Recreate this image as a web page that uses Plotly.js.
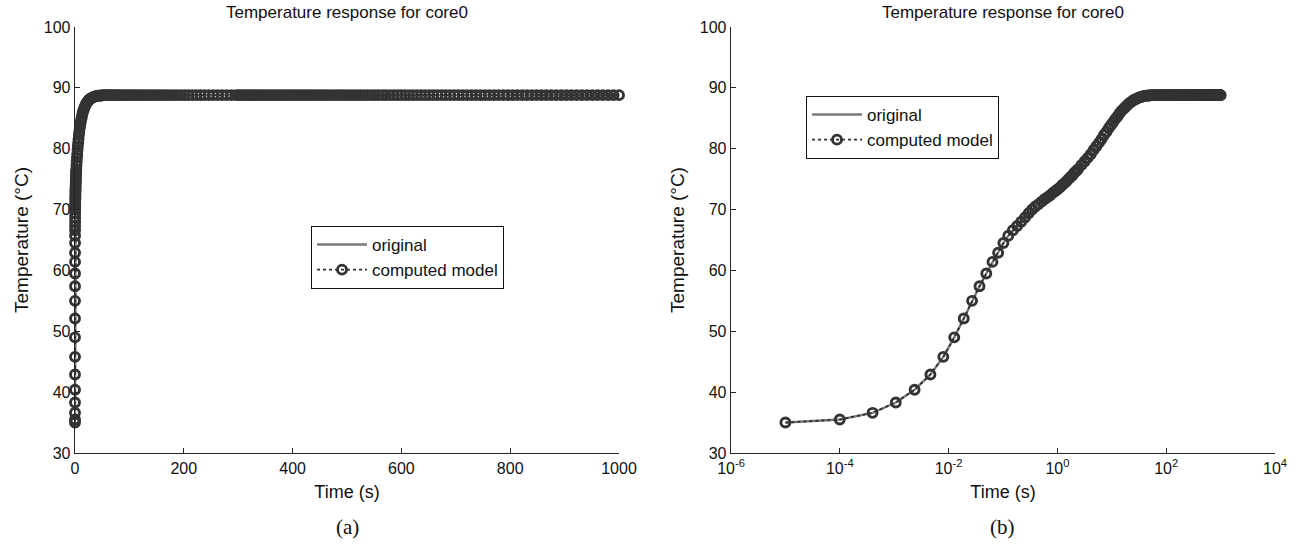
<!DOCTYPE html>
<html>
<head>
<meta charset="utf-8">
<script src="https://cdn.plot.ly/plotly-3.0.1.min.js"></script>
<style>html,body{margin:0;padding:0;background:#fff;}#chart{width:1301px;height:553px;}</style>
</head>
<body>
<div id="chart"></div>
<script>
// Sample times (s)
const timeS = [
0.00001,0.0001,0.0004,0.00107,0.00237,0.00463,0.008,0.0127,0.019,0.027,
0.037,0.0493,0.064,0.0814,0.1016,0.125,0.1517,0.182,
0.216,0.254,0.296,0.343,0.394,0.451,0.512,0.579,0.651,0.729,0.813,0.903,1.0,1.103,1.214,1.331,1.456,1.588,1.728,1.876,2.032,2.197,2.37,
2.744,3.155,3.605,4.096,4.63,5.208,5.832,6.504,7.226,8.0,8.827,9.709,10.648,11.646,12.704,13.824,15.008,16.258,17.576,18.963,20.421,21.952,23.558,25.24,27.0,28.84,30.762,32.768,34.859,
37.0,39.3,41.7,44.1,46.7,49.3,52.0,54.9,57.8,60.9,64.0,67.3,70.6,74.1,77.7,81.4,85.2,89.1,93.2,97.3,
101.6,106.0,110.6,115.3,120.1,125.0,130.1,135.3,140.6,146.1,151.7,157.5,163.4,169.4,175.6,182.0,188.5,195.1,201.9,208.9,
216.0,223.3,230.7,238.3,246.1,254.0,262.1,270.4,278.9,287.5,
296.3,300.8,305.3,309.8,314.4,319.1,323.8,328.5,333.3,338.1,343.0,347.9,352.9,357.9,363.0,368.1,373.2,378.5,383.7,389.0,
394.4,399.8,405.2,410.7,416.3,421.9,427.5,433.2,439.0,444.8,450.6,456.5,462.5,468.5,474.6,480.7,486.8,493.0,499.3,505.6,
512.0,518.4,524.9,531.4,538.0,544.7,551.4,558.1,564.9,571.8,578.7,585.7,592.7,599.8,606.9,614.1,621.4,628.7,636.1,643.5,
651.0,658.5,666.1,673.8,681.5,689.2,697.1,705.0,712.9,720.9,729.0,737.1,745.3,753.6,761.9,770.3,778.7,787.2,795.7,804.4,
813.0,821.8,830.6,839.5,848.4,857.4,866.4,875.6,884.7,894.0,903.3,912.7,922.1,931.6,941.2,950.8,960.5,970.3,980.1,990.0,
1000.0
];
// Core0 temperature (°C) at each sample time
const tempC = [
35.0,35.5,36.6,38.3,40.4,42.9,45.8,49.0,52.1,55.0,
57.4,59.5,61.4,62.9,64.5,65.7,66.6,67.3,
68.0,68.7,69.4,70.0,70.5,70.9,71.3,71.7,72.0,72.3,72.7,73.0,73.3,73.6,74.0,74.3,74.6,75.0,75.3,75.6,76.0,76.3,76.6,
77.3,77.9,78.5,79.1,79.8,80.4,81.0,81.6,82.3,82.8,83.4,83.9,84.4,84.9,85.3,85.8,86.2,86.5,86.8,87.1,87.4,87.6,87.8,88.0,88.1,88.25,88.35,88.45,88.5,
88.6,88.65,88.7,88.7,88.75,88.75,88.8,88.8,88.8,88.8,88.8,88.8,88.8,88.8,88.8,88.8,88.8,88.8,88.8,88.8,
88.8,88.8,88.8,88.8,88.8,88.8,88.8,88.8,88.8,88.8,88.8,88.8,88.8,88.8,88.8,88.8,88.8,88.8,88.8,88.8,
88.8,88.8,88.8,88.8,88.8,88.8,88.8,88.8,88.8,88.8,
88.8,88.8,88.8,88.8,88.8,88.8,88.8,88.8,88.8,88.8,88.8,88.8,88.8,88.8,88.8,88.8,88.8,88.8,88.8,88.8,
88.8,88.8,88.8,88.8,88.8,88.8,88.8,88.8,88.8,88.8,88.8,88.8,88.8,88.8,88.8,88.8,88.8,88.8,88.8,88.8,
88.8,88.8,88.8,88.8,88.8,88.8,88.8,88.8,88.8,88.8,88.8,88.8,88.8,88.8,88.8,88.8,88.8,88.8,88.8,88.8,
88.8,88.8,88.8,88.8,88.8,88.8,88.8,88.8,88.8,88.8,88.8,88.8,88.8,88.8,88.8,88.8,88.8,88.8,88.8,88.8,
88.8,88.8,88.8,88.8,88.8,88.8,88.8,88.8,88.8,88.8,88.8,88.8,88.8,88.8,88.8,88.8,88.8,88.8,88.8,88.8,
88.8
];
const seriesNames = ['original', 'computed model'];
const chartTitle = 'Temperature response for core0';
const xTitle = 'Time (s)';
const yTitle = 'Temperature (°C)';
const linTicks = [0, 200, 400, 600, 800, 1000];
const logTicks = [1e-6, 1e-4, 1e-2, 1, 1e2, 1e4];
const logTickText = ['10<sup>-6</sup>', '10<sup>-4</sup>', '10<sup>-2</sup>', '10<sup>0</sup>', '10<sup>2</sup>', '10<sup>4</sup>'];
const captions = ['(a)', '(b)'];

const FONT = 'Liberation Sans, Arial, Helvetica, sans-serif';
const AX = '#262626';

function origTrace(xa, ya, lg) {
  return {x: timeS, y: tempC, xaxis: xa, yaxis: ya, legend: lg, name: seriesNames[0],
    type: 'scatter', mode: 'lines', line: {color: '#7a7a7a', width: 2.4}, cliponaxis: false};
}
function modelTrace(xa, ya, lg) {
  return {x: timeS, y: tempC, xaxis: xa, yaxis: ya, legend: lg, name: seriesNames[1],
    type: 'scatter', mode: 'lines+markers', cliponaxis: false,
    line: {color: '#2e2e2e', width: 1.8, dash: 'dot'},
    marker: {symbol: 'circle-open', size: 9, color: '#333333', line: {width: 2.9, color: '#333333'}}};
}

const data = [
  origTrace('x', 'y', 'legend'), modelTrace('x', 'y', 'legend'),
  origTrace('x2', 'y2', 'legend2'), modelTrace('x2', 'y2', 'legend2')
];

const axCommon = {
  showline: true, linecolor: AX, linewidth: 1.3, ticks: 'inside', ticklen: 5, tickwidth: 1.2,
  tickcolor: AX, showgrid: false, zeroline: false, mirror: false,
  tickfont: {family: FONT, size: 16, color: '#111'}
};
const ydom = [100 / 553, 526 / 553];
const legendCommon = {
  bgcolor: '#ffffff', bordercolor: '#111', borderwidth: 1,
  font: {family: FONT, size: 17, color: '#111'}, xanchor: 'left', yanchor: 'top',
  tracegroupgap: 0, itemwidth: 50
};

const layout = {
  width: 1301, height: 553,
  margin: {l: 0, r: 0, t: 0, b: 0},
  paper_bgcolor: '#fff', plot_bgcolor: '#fff',
  font: {family: FONT, color: '#111'},
  showlegend: true,
  xaxis: Object.assign({}, axCommon, {
    domain: [75 / 1301, 619 / 1301], anchor: 'y', range: [0, 1000], tickvals: linTicks,
    title: {text: xTitle, font: {family: FONT, size: 18, color: '#111'}, standoff: 10}
  }),
  yaxis: Object.assign({}, axCommon, {
    domain: ydom, anchor: 'x', range: [30, 100], dtick: 10,
    title: {text: yTitle, font: {family: FONT, size: 19, color: '#111'}, standoff: 10}
  }),
  xaxis2: Object.assign({}, axCommon, {
    domain: [731 / 1301, 1275 / 1301], anchor: 'y2', type: 'log', range: [-6, 4],
    tickvals: logTicks, ticktext: logTickText,
    title: {text: xTitle, font: {family: FONT, size: 18, color: '#111'}, standoff: 10}
  }),
  yaxis2: Object.assign({}, axCommon, {
    domain: ydom, anchor: 'x2', range: [30, 100], dtick: 10,
    title: {text: yTitle, font: {family: FONT, size: 19, color: '#111'}, standoff: 10}
  }),
  legend: Object.assign({}, legendCommon, {x: 311 / 1301, y: 1 - 226 / 553}),
  legend2: Object.assign({}, legendCommon, {x: 806 / 1301, y: 1 - 96 / 553}),
  annotations: [
    {text: chartTitle, xref: 'paper', yref: 'paper', x: 347 / 1301, y: 1 - 13 / 553, xanchor: 'center', yanchor: 'middle',
     showarrow: false, font: {family: FONT, size: 17, color: '#111'}},
    {text: chartTitle, xref: 'paper', yref: 'paper', x: 1003 / 1301, y: 1 - 13 / 553, xanchor: 'center', yanchor: 'middle',
     showarrow: false, font: {family: FONT, size: 17, color: '#111'}},
    {text: captions[0], xref: 'paper', yref: 'paper', x: 347 / 1301, y: 1 - 527 / 553, xanchor: 'center', yanchor: 'middle',
     showarrow: false, font: {family: 'Liberation Serif, Times New Roman, serif', size: 21, color: '#111'}},
    {text: captions[1], xref: 'paper', yref: 'paper', x: 1003 / 1301, y: 1 - 527 / 553, xanchor: 'center', yanchor: 'middle',
     showarrow: false, font: {family: 'Liberation Serif, Times New Roman, serif', size: 21, color: '#111'}}
  ]
};

Plotly.newPlot('chart', data, layout, {displayModeBar: false, staticPlot: true});
</script>
</body>
</html>
